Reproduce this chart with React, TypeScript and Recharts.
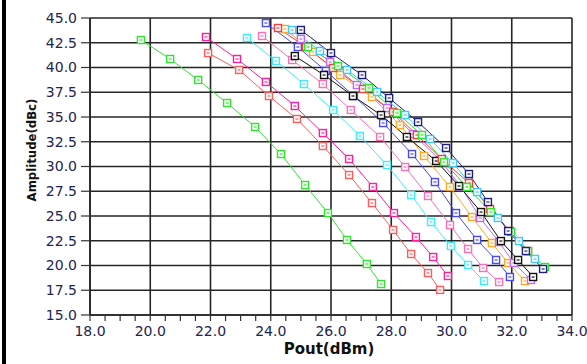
import React from "react";
import { LineChart, Line, XAxis, YAxis, CartesianGrid, ReferenceLine } from "recharts";

// Pout (dBm), Amplitude (dBc) pairs, one array per sweep
const greenPts = [[19.69, 42.78], [20.66, 40.86], [21.59, 38.74], [22.55, 36.41], [23.48, 33.99], [24.34, 31.26], [25.14, 28.13], [25.9, 25.3], [26.53, 22.58], [27.19, 20.15], [27.66, 18.13]];
const deepPinkPts = [[21.85, 43.08], [22.88, 40.86], [23.84, 38.54], [24.8, 36.11], [25.73, 33.38], [26.6, 30.76], [27.39, 27.93], [28.09, 25.3], [28.82, 22.88], [29.39, 20.86], [29.88, 18.94]];
const salmonPts = [[21.92, 41.46], [22.95, 39.75], [23.94, 37.12], [24.87, 34.8], [25.73, 32.07], [26.6, 29.14], [27.36, 26.31], [28.06, 23.59], [28.66, 21.16], [29.22, 19.24], [29.62, 17.53]];
const cyanPts = [[23.21, 42.98], [24.17, 40.66], [25.1, 38.33], [26.07, 35.71], [26.96, 33.08], [27.86, 30.15], [28.66, 27.12], [29.32, 24.39], [29.98, 21.97], [30.55, 20.05], [31.08, 18.43]];
const hotPinkPts = [[23.71, 43.18], [24.71, 40.76], [25.73, 38.33], [26.66, 35.71], [27.63, 32.98], [28.46, 29.95], [29.22, 27.02], [29.95, 24.09], [30.55, 21.67], [31.05, 19.75], [31.58, 18.33]];
const bluePts = [[23.84, 44.49], [24.9, 42.07], [25.83, 39.65], [26.76, 37.12], [27.73, 34.39], [28.69, 31.26], [29.45, 28.43], [30.15, 25.3], [30.85, 22.58], [31.48, 20.56], [31.94, 18.84]];
const orangePts = [[24.47, 43.89], [25.4, 41.57], [26.3, 39.24], [27.36, 37.02], [28.29, 34.19], [29.09, 31.06], [29.95, 27.93], [30.68, 24.9], [31.34, 22.27], [31.88, 20.25], [32.44, 18.43]];
const purplePts = [[25.0, 42.88], [25.97, 40.56], [26.86, 38.23], [27.86, 35.91], [28.72, 33.28], [29.62, 30.66], [30.32, 27.93], [30.95, 24.8], [31.58, 22.37], [32.07, 20.25], [32.64, 18.54]];
const blackPts = [[24.8, 41.16], [25.77, 39.24], [26.73, 37.12], [27.66, 35.2], [28.52, 32.98], [29.49, 30.56], [30.25, 28.03], [30.98, 25.4], [31.64, 22.47], [32.21, 20.56], [32.71, 18.84]];
const redPts = [[24.24, 43.99], [25.17, 42.07], [26.07, 39.95], [27.06, 37.83], [28.06, 35.51], [28.85, 33.18], [29.68, 30.76], [30.58, 28.33], [31.28, 25.71], [31.94, 23.48], [32.54, 21.46]];
const green2Pts = [[25.24, 42.07], [26.23, 40.15], [27.26, 37.93], [28.19, 35.4], [29.02, 33.18], [29.75, 30.45], [30.51, 27.93], [31.31, 25.4], [31.98, 23.38], [32.54, 21.46], [33.1, 19.85]];
const lightBluePts = [[24.71, 43.79], [25.63, 41.67], [26.53, 39.75], [27.53, 37.53], [28.46, 35.2], [29.29, 32.78], [30.05, 30.35], [30.85, 27.42], [31.54, 24.8], [32.24, 22.47], [32.77, 20.66]];
const navyPts = [[25.0, 43.79], [26.0, 41.46], [27.03, 39.24], [27.93, 36.92], [28.89, 34.49], [29.82, 31.87], [30.58, 29.24], [31.21, 26.41], [31.88, 23.48], [32.47, 21.46], [33.04, 19.65]];

const X_MAJOR = [18, 20, 22, 24, 26, 28, 30, 32, 34];
const X_ALL = Array.from({ length: 33 }, (_, i) => 18 + i * 0.5);
const Y_TICKS = [15, 17.5, 20, 22.5, 25, 27.5, 30, 32.5, 35, 37.5, 40, 42.5, 45];

const series = [
  { name: "s1", color: "#2ee62e", pts: greenPts },
  { name: "s2", color: "#ff1f9a", pts: deepPinkPts },
  { name: "s3", color: "#ff5c5c", pts: salmonPts },
  { name: "s4", color: "#40eaff", pts: cyanPts },
  { name: "s5", color: "#ff6eb4", pts: hotPinkPts },
  { name: "s6", color: "#4848ff", pts: bluePts },
  { name: "s7", color: "#ffa820", pts: orangePts },
  { name: "s8", color: "#c466ff", pts: purplePts },
  { name: "s9", color: "#111111", pts: blackPts },
  { name: "s10", color: "#ff3b3b", pts: redPts },
  { name: "s11", color: "#22ee22", pts: green2Pts },
  { name: "s12", color: "#3ec8ff", pts: lightBluePts },
  { name: "s13", color: "#1e1e80", pts: navyPts },
];

const GRID = "#262626";
const TICK_COLOR = "#23234f";
const FONT = "'DejaVu Sans', sans-serif";

const boxDot = (color: string) => (props: any) => {
  const { cx, cy, index } = props;
  if (cx == null || cy == null) return <g key={index} />;
  return (
    <g key={index}>
      <rect x={cx - 3.5} y={cy - 3.5} width={7} height={7} fill="#fff" stroke={color} strokeWidth={1.4} />
      <rect x={cx - 1.5} y={cy - 1} width={3} height={2} fill={color} opacity={0.6} />
    </g>
  );
};

const XTick = (props: any) => {
  const { x, y, payload } = props;
  if (!X_MAJOR.includes(payload.value)) return <g />;
  return (
    <text x={x} y={y + 13} textAnchor="middle" fontSize={14} fontFamily={FONT} fill={TICK_COLOR}>
      {payload.value.toFixed(1)}
    </text>
  );
};

export default function App() {
  return (
    <div style={{ position: "absolute", left: 0, top: 0, width: 587, height: 364, background: "#fff" }}>
      <LineChart width={587} height={364} margin={{ top: 18, right: 15, bottom: 0, left: 0 }}>
        <CartesianGrid vertical={false} stroke={GRID} strokeWidth={1.6} />
        {X_MAJOR.map((v) => (
          <ReferenceLine key={v} x={v} stroke={GRID} strokeWidth={1.6} />
        ))}
        <XAxis
          type="number"
          dataKey="x"
          domain={[18, 34]}
          ticks={X_ALL}
          interval={0}
          height={49}
          tickSize={6}
          tickMargin={2}
          tick={<XTick />}
          axisLine={{ stroke: GRID, strokeWidth: 1.6 }}
          tickLine={{ stroke: "#333", strokeWidth: 1.2 }}
          allowDataOverflow
        />
        <YAxis
          type="number"
          dataKey="y"
          domain={[15, 45]}
          ticks={Y_TICKS}
          interval={0}
          width={90}
          tickSize={9}
          tickMargin={4}
          tickFormatter={(v: number) => v.toFixed(1)}
          tick={{ fontSize: 14, fontFamily: FONT, fill: TICK_COLOR }}
          axisLine={{ stroke: GRID, strokeWidth: 1.6 }}
          tickLine={{ stroke: "#333", strokeWidth: 1.2 }}
          allowDataOverflow
        />
        {series.map((s) => (
          <Line
            key={s.name}
            data={s.pts.map(([x, y]) => ({ x, y }))}
            dataKey="y"
            type="linear"
            stroke={s.color}
            strokeWidth={1}
            dot={boxDot(s.color)}
            activeDot={false}
            isAnimationActive={false}
          />
        ))}
      </LineChart>
      <svg width={587} height={364} style={{ position: "absolute", left: 0, top: 0, pointerEvents: "none" }}>
        <rect x={2} y={0} width={4} height={364} fill="#000" />
        <text
          transform="translate(31,150) rotate(-90)"
          textAnchor="middle"
          dominantBaseline="central"
          fontSize={13}
          fontWeight="bold"
          fontFamily="'DejaVu Sans Condensed', Roboto, sans-serif"
          fill="#111"
        >
          Amplitude(dBc)
        </text>
        <text x={329} y={354} textAnchor="middle" fontSize={15} fontWeight="bold" fontFamily={FONT} fill="#111">
          Pout(dBm)
        </text>
      </svg>
    </div>
  );
}
